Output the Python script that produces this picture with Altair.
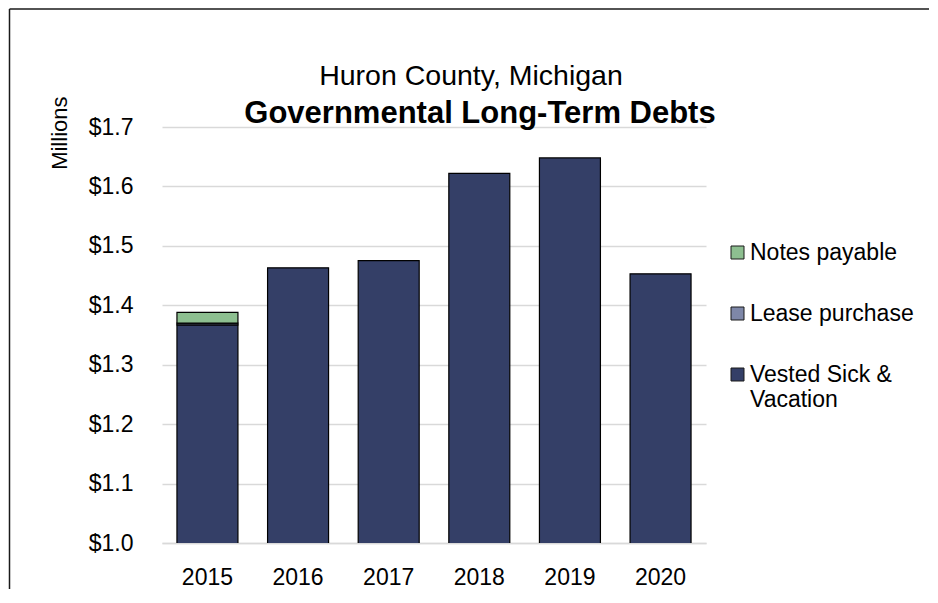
import altair as alt
import pandas as pd

# ---- data ----
years = ["2015", "2016", "2017", "2018", "2019", "2020"]
vested = [1.367, 1.463, 1.475, 1.622, 1.648, 1.453]
lease = [0.003, 0.0, 0.0, 0.0, 0.0, 0.0]
notes = [0.018, 0.0, 0.0, 0.0, 0.0, 0.0]
series = ["Notes payable", "Lease purchase", "Vested Sick & Vacation"]
colors = ["#8dbf90", "#7e87a8", "#343f67"]
y_ticks = [1.0, 1.1, 1.2, 1.3, 1.4, 1.5, 1.6, 1.7]
title_lines = ["Huron County, Michigan", "Governmental Long-Term Debts"]
y_title = "Millions"

FONT = "Liberation Sans"

rows = []
for i, yr in enumerate(years):
    for name, vals, order in [("Vested Sick & Vacation", vested, 0),
                              ("Lease purchase", lease, 1),
                              ("Notes payable", notes, 2)]:
        if vals[i] > 0:
            rows.append({"year": yr, "series": name, "value": vals[i], "order": order})
df = pd.DataFrame(rows)

bars = alt.Chart(df).mark_bar(clip=True, stroke="#000000", strokeWidth=1.2).encode(
    x=alt.X("year:N", sort=years,
            scale=alt.Scale(paddingInner=0.327, paddingOuter=0.165),
            axis=alt.Axis(title=None, labelAngle=0, labelFontSize=23, labelColor="#000000",
                          labelFont=FONT, labelPadding=23, ticks=False,
                          domainColor="#d9d9d9", domainWidth=1.5, grid=False)),
    y=alt.Y("value:Q", stack="zero",
            scale=alt.Scale(domain=[1.0, 1.7], nice=False, zero=False),
            axis=alt.Axis(values=y_ticks, format="$.1f", grid=True, gridColor="#d9d9d9",
                          gridWidth=1.3, domain=False, ticks=False, labelPadding=29,
                          labelFontSize=23, labelColor="#000000", labelFont=FONT,
                          title=y_title, titleFont=FONT, titleFontSize=22,
                          titleFontWeight="normal", titleColor="#000000",
                          titleAngle=270, titleX=-103, titleY=-31,
                          titleAlign="right", titleBaseline="middle")),
    color=alt.Color("series:N",
                    scale=alt.Scale(domain=series, range=colors),
                    legend=alt.Legend(title=None, orient="none", legendX=564, legendY=114,
                                      symbolType="square", symbolSize=169,
                                      symbolStrokeColor="#1a1a1a", symbolStrokeWidth=1,
                                      labelFontSize=23, labelFont=FONT, labelColor="#000000",
                                      labelOffset=1, rowPadding=37, labelLimit=400, padding=0,
                                      labelExpr="datum.label == 'Vested Sick & Vacation' ? ['Vested Sick &', 'Vacation'] : datum.label")),
    order=alt.Order("order:Q"),
)

one = pd.DataFrame({"k": [0]})

border_left = alt.Chart(one).mark_rule(color="#1a1a1a", strokeWidth=1.5).encode(
    x=alt.value(-152.5), y=alt.value(-118), y2=alt.value(462))
border_top = alt.Chart(one).mark_rule(color="#1a1a1a", strokeWidth=1.5).encode(
    x=alt.value(-152.5), x2=alt.value(767), y=alt.value(-118))

t1 = alt.Chart(pd.DataFrame({"t": [title_lines[0]]})).mark_text(
    font=FONT, fontSize=28.5, color="#000000", align="center", baseline="alphabetic").encode(
    text="t:N", x=alt.value(309), y=alt.value(-42))
t2 = alt.Chart(pd.DataFrame({"t": [title_lines[1]]})).mark_text(
    font=FONT, fontSize=31, fontWeight="bold", color="#000000", align="center",
    baseline="alphabetic").encode(
    text="t:N", x=alt.value(318), y=alt.value(-4))

chart = alt.layer(bars, border_left, border_top, t1, t2).properties(
    width=544, height=416, padding=0
).configure(font=FONT).configure_view(stroke="transparent", strokeWidth=0)

chart.save("out.html", embed_options={"renderer": "svg", "actions": False})
